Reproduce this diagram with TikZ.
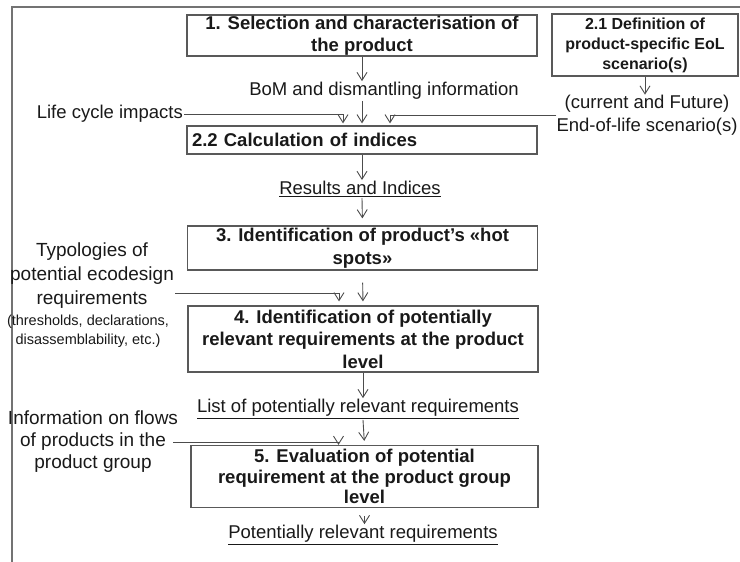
\documentclass[tikz,border=0pt]{standalone}
\usepackage{fontspec}
\setmainfont{Liberation Sans}
\usetikzlibrary{arrows.meta,positioning}

\begin{document}
\begin{tikzpicture}[x=1pt, y=-1pt,
	stage/.style={draw=black!65, line width=1.2pt, minimum width=350pt, inner sep=0pt, align=center, text=black!90, font=\fontsize{18.5}{22.5}\selectfont\bfseries},
	note/.style={inner sep=1pt, align=center, text=black!90, font=\fontsize{18.5}{23}\selectfont},
	flow/.style={draw=black!70, line width=0.9pt, -{Straight Barb[length=8pt, width=10pt]}}]

\useasboundingbox (0,0) rectangle (740,562);

%frame
\draw[black!55, line width=1.2pt] (740,7) -- (12,7) -- (12,562);

%stages
\node[stage, minimum height=41pt] (b1) at (362,35.5) {1. Selection and characterisation of\\the product};
\node[stage, minimum width=186pt, minimum height=62pt, font=\fontsize{16}{20}\selectfont\bfseries] (b21) at (645,45) {2.1 Definition of\\product-specific EoL\\scenario(s)};
\node[stage, minimum height=28pt, text width=340pt, align=left] (b22) at (362,140) {2.2 Calculation of indices};
\node[stage, minimum height=44pt] (b3) at (362.5,248) {3. Identification of product’s «hot\\spots»};
\node[stage, minimum height=66pt] (b4) at (363,339) {4. Identification of potentially\\relevant requirements at the product\\level};
\node[stage, minimum width=347pt, minimum height=62pt, font=\fontsize{18.5}{20.5}\selectfont\bfseries] (b5) at (364.5,476.5) {5. Evaluation of potential\\requirement at the product group\\level};

%inputs and outputs
\node[note] (bom) at (384,91) {BoM and dismantling information};
\node[note, anchor=east] (lci) at (184,114) {Life cycle impacts};
\node[note, inner sep=0pt] (eol) at (647,115) {(current and Future)\\End-of-life scenario(s)};
\node[note] (res) at (360,189) {\underline{Results and Indices}};
\node[note, font=\fontsize{19}{24}\selectfont] (typ) at (92,276) {Typologies of\\potential ecodesign\\requirements};
\node[note, font=\fontsize{14.5}{19}\selectfont] (typs) at (88,331.5) {(thresholds, declarations,\\disassemblability, etc.)};
\node[note] (lpr) at (358,409) {\underline{List of potentially relevant requirements}};
\node[note, font=\fontsize{19}{22}\selectfont] (info) at (93,442) {Information on flows\\of products in the\\product group};
\node[note] (pr) at (363,535) {\underline{Potentially relevant requirements}};

%connectors
\draw[flow] (b1.south) -- (b1.south |- bom.north);
\draw[flow, shorten >=2pt] (bom.south -| b1.south) -- (b22.north);
\draw[flow, shorten >=2pt] (lci.east) -| ([xshift=-19pt]b22.north);
\draw[flow, shorten >=2pt] (eol.west) -| ([xshift=28pt]b22.north);
\draw[flow] (b21.south) -- (b21.south |- eol.north);
\draw[flow] (b22.south) -- (b22.south |- res.north);
\draw[flow, shorten >=7pt] (res.south -| b22.south) -- (b3.north);
\draw[flow, shorten <=12pt, shorten >=4pt] (b3.south) -- (b4.north);
\draw[flow, shorten >=4pt] ([yshift=-17pt]typ.east) -| ([xshift=-24pt]b4.north);
\draw[flow] (b4.south) -- (b4.south |- lpr.north);
\draw[flow, shorten >=4pt] (lpr.south -| b4.south) -- (b5.north);
\draw[flow] ([xshift=-6pt]info.east) -| ([xshift=-26pt]b5.north);
\draw[flow] ([yshift=-8pt]b5.south) -- (b5.south |- pr.north);

\end{tikzpicture}
\end{document}
